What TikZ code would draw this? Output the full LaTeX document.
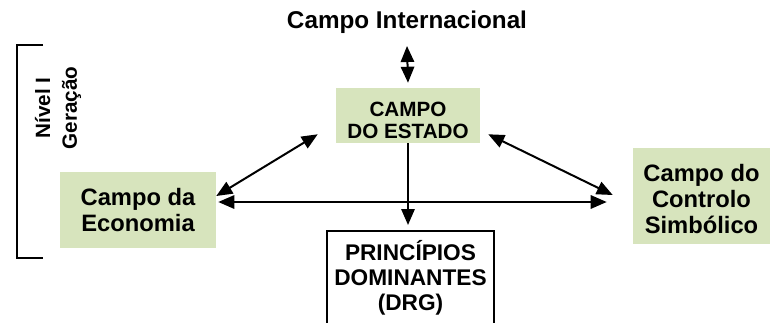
\documentclass[tikz,border=0pt]{standalone}
\usepackage{fontspec}
\setmainfont{Liberation Sans}
\usetikzlibrary{positioning}
\usetikzlibrary {arrows.meta}
\definecolor{campogreen}{RGB}{215,228,189}
\tikzset{campo/.style={rectangle,draw=none,fill=campogreen,align=center,
inner sep=0pt,font=\bfseries\fontsize{17.8}{19.5}\selectfont}}
\tikzset{campobox/.style={rectangle,draw=none,fill=campogreen,inner sep=0pt}}
\tikzset{campotxt/.style={align=center,inner sep=0pt,font=\bfseries\fontsize{15.5}{16.5}\selectfont}}
\tikzset{principio/.style={rectangle,draw=black,line width=1.5pt,fill=white,align=center,
inner sep=0pt,font=\bfseries\fontsize{17}{18.75}\selectfont}}
\tikzset{dupla/.style={line width=1.5pt,{Triangle[length=12pt,width=10pt]}-{Triangle[length=12pt,width=10pt]}}}
\tikzset{simples/.style={line width=1.5pt,-{Triangle[length=12pt,width=10pt]}}}

\begin{document}
\begin{tikzpicture}[x=0.75pt,y=-0.75pt]
        \useasboundingbox (0,0) rectangle (775,322);

        \node[font=\bfseries\fontsize{18.2}{20}\selectfont] (intl) at (407,22) {Campo Internacional};
        \node[campobox, minimum width=144*0.75pt, minimum height=55*0.75pt] (estado) at (408,115.5) {};
        \node[campotxt] (estadotxt) at ([yshift=-5*0.75pt]estado.center) {CAMPO\\DO ESTADO};
        \node[principio, minimum width=167*0.75pt, minimum height=94*0.75pt] (drg) at (410.5,278) {PRINCÍPIOS\\DOMINANTES\\(DRG)};
        \node[campo, minimum width=156*0.75pt, minimum height=76*0.75pt] (eco) at (138,210) {Campo da\\Economia};
        \node[campobox, minimum width=137*0.75pt, minimum height=96*0.75pt] (simb) at (701.5,196) {};
        \node[campo] (simbtxt) at ([yshift=-3*0.75pt]simb.center) {Campo do\\Controlo\\Simbólico};

        % nivel I
        \node[rotate=90, align=center, font=\bfseries\fontsize{15.5}{20}\selectfont] (nivel) at (58,108) {Nível I\\Geração};
        \draw[line width=1.5pt] (43,45) -- (17,45) -- (17,258) -- (43,258);

        % arrows
        \draw[dupla] ([yshift=-8*0.75pt]intl.south) -- ([yshift=5*0.75pt]estado.north);
        \draw[simples] (estado.south) -- ([yshift=5*0.75pt]estado.south |- drg.north);

        \node (estadol) at ([xshift=-18*0.75pt,yshift=9*0.75pt]estado.south west) { };
        \node (ecor) at ([yshift=14*0.75pt]eco.east) { };
        \draw[dupla] (estadol.center) -- (ecor.center);

        \node (estador) at ([xshift=8*0.75pt,yshift=9*0.75pt]estado.south east) { };
        \node (simbl) at ([xshift=-20*0.75pt,yshift=1*0.75pt]simb.west) { };
        \draw[dupla] (estador.center) -- (simbl.center);

        \node (ecorh) at ([xshift=2*0.75pt,yshift=8*0.75pt]eco.east) { };
        \node (simblh) at ([xshift=-26*0.75pt,yshift=8*0.75pt]simb.west |- eco.east) { };
        \draw[dupla] (ecorh.center) -- (simblh.center);

\end{tikzpicture}
\end{document}
